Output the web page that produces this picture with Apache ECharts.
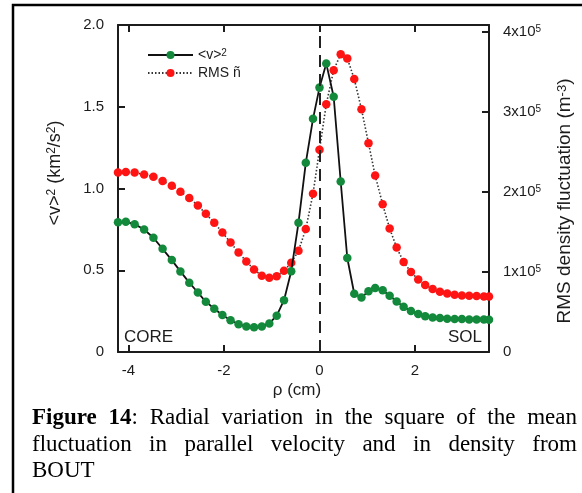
<!DOCTYPE html>
<html>
<head>
<meta charset="utf-8">
<script src="https://cdn.jsdelivr.net/npm/echarts@6/dist/echarts.min.js"></script>
<style>
  html, body { margin: 0; padding: 0; background: #fff; }
  #wrap { position: relative; width: 582px; height: 493px; overflow: hidden; }
  #chart { position: absolute; left: 0; top: 0; width: 582px; height: 493px; }
  .cap { position: absolute; left: 32px; width: 545px; font-family: 'Liberation Serif', 'Times New Roman', serif;
         font-size: 23px; line-height: 26px; color: #000; white-space: nowrap; }
  .just { text-align: justify; text-align-last: justify; white-space: normal; }
</style>
</head>
<body>
<div id="wrap">
  <div id="chart"></div>
  <div class="cap just" style="top:404px"><b>Figure 14</b>: Radial variation in the square of the mean</div>
  <div class="cap just" style="top:431px">fluctuation in parallel velocity and in density from</div>
  <div class="cap" style="top:457px">BOUT</div>
</div>
<script>
// Radial coordinate rho (cm), shared by both profiles
const rho = [-4.22, -4.056, -3.872, -3.673, -3.478, -3.286, -3.093, -2.913, -2.727, -2.547,
  -2.380, -2.204, -2.034, -1.863, -1.695, -1.532, -1.371, -1.208, -1.051, -0.896,
  -0.743, -0.592, -0.440, -0.287, -0.136, 0.0, 0.142, 0.297, 0.444, 0.582,
  0.728, 0.879, 1.026, 1.166, 1.323, 1.469, 1.616, 1.762, 1.915, 2.068,
  2.214, 2.369, 2.522, 2.675, 2.830, 2.982, 3.135, 3.290, 3.443, 3.55];

// <v>^2 in km^2/s^2 (left axis)
const vSquared = [0.793, 0.796, 0.782, 0.749, 0.699, 0.631, 0.562, 0.493, 0.424, 0.364,
  0.307, 0.265, 0.226, 0.194, 0.170, 0.156, 0.151, 0.156, 0.175, 0.222,
  0.317, 0.494, 0.790, 1.157, 1.426, 1.617, 1.764, 1.561, 1.043, 0.575,
  0.356, 0.333, 0.372, 0.391, 0.378, 0.344, 0.309, 0.276, 0.251, 0.232,
  0.218, 0.211, 0.208, 0.204, 0.202, 0.202, 0.199, 0.199, 0.199, 0.197];

// RMS density fluctuation in units of 1e5 m^-3 (right axis)
const rmsDensity = [2.245, 2.25, 2.245, 2.22, 2.191, 2.1375, 2.079, 2.004, 1.925, 1.8325,
  1.729, 1.616, 1.495, 1.37, 1.245, 1.1325, 1.0325, 0.954, 0.929, 0.9475,
  1.016, 1.116, 1.266, 1.5375, 1.979, 2.529, 3.1, 3.525, 3.725, 3.6725,
  3.416, 3.0375, 2.6125, 2.2075, 1.8475, 1.545, 1.306, 1.126, 1.0, 0.9075,
  0.8375, 0.7875, 0.754, 0.7325, 0.716, 0.7075, 0.704, 0.70, 0.695, 0.695];

const rhoTicks = [-4, -2, 0, 2];
const vTicks = [0, 0.5, 1.0, 1.5, 2.0];
const nTicks = [0, 1, 2, 3, 4];

const seriesNames = ['<v>2', 'RMS ñ'];

const FONT = "'Liberation Sans', Arial, sans-serif";
const INK = '#1c1c1c';
const GREEN = '#12893b';
const RED = '#ff1414';

const supRich = (size) => ({ sup: { fontSize: size, fontFamily: FONT, color: INK, verticalAlign: 'top' } });

const chart = echarts.init(document.getElementById('chart'), null, { renderer: 'canvas' });

const axisLineStyle = { show: true, onZero: false, lineStyle: { color: INK, width: 2 } };

chart.setOption({
  animation: false,
  backgroundColor: '#fff',
  grid: { left: 118, top: 25, right: 93, bottom: 141, containLabel: false },
  legend: {
    left: 142, top: 43, orient: 'vertical', itemWidth: 45, itemHeight: 10, itemGap: 4,
    data: seriesNames,
    textStyle: { fontFamily: FONT, fontSize: 14, color: INK, rich: supRich(10) },
    formatter: (n) => n === seriesNames[0] ? '<v>{sup|2}' : n
  },
  xAxis: [{
    type: 'value', min: -4.22, max: 3.55, position: 'bottom',
    axisLine: axisLineStyle,
    axisTick: { show: true, inside: true, length: 7, lineStyle: { color: INK, width: 2 }, customValues: rhoTicks },
    axisLabel: { fontFamily: FONT, fontSize: 15, color: INK, margin: 11, customValues: rhoTicks },
    splitLine: { show: false }
  }, {
    type: 'value', min: -4.22, max: 3.55, position: 'top',
    axisLine: axisLineStyle,
    axisTick: { show: true, inside: true, length: 7, lineStyle: { color: INK, width: 2 }, customValues: rhoTicks },
    axisLabel: { show: false },
    splitLine: { show: false }
  }],
  yAxis: [{
    type: 'value', min: 0, max: 2.0, interval: 0.5, position: 'left',
    axisLine: axisLineStyle,
    axisTick: { show: true, inside: true, length: 7, lineStyle: { color: INK, width: 2 } },
    axisLabel: { fontFamily: FONT, fontSize: 15, color: INK, margin: 14,
      formatter: (v) => v === 0 ? '0' : v.toFixed(1) },
    splitLine: { show: false }
  }, {
    type: 'value', min: 0, max: 4.09, interval: 1, position: 'right',
    axisLine: axisLineStyle,
    axisTick: { show: true, inside: true, length: 7, lineStyle: { color: INK, width: 2 } },
    axisLabel: { fontFamily: FONT, fontSize: 15, color: INK, margin: 14, rich: supRich(10),
      formatter: (v) => v === 0 ? '0' : Math.round(v) + 'x10{sup|5}' },
    splitLine: { show: false }
  }],
  series: [{
    name: seriesNames[1], type: 'line', xAxisIndex: 0, yAxisIndex: 1,
    data: rho.map((r, i) => [r, rmsDensity[i]]),
    symbol: 'circle', symbolSize: 8.5,
    itemStyle: { color: RED },
    lineStyle: { color: '#333', width: 1.6, type: [1.5, 2] },
    z: 2
  }, {
    name: seriesNames[0], type: 'line', xAxisIndex: 0, yAxisIndex: 0,
    data: rho.map((r, i) => [r, vSquared[i]]),
    symbol: 'circle', symbolSize: 8.5,
    itemStyle: { color: GREEN },
    lineStyle: { color: '#111', width: 1.8 },
    z: 3,
    markLine: {
      silent: true, symbol: ['none', 'none'],
      label: { show: false },
      lineStyle: { color: '#222', width: 2, type: [12, 7] },
      data: [{ xAxis: 0 }]
    }
  }],
  graphic: [
    { type: 'rect', shape: { x: 13, y: 5, width: 700, height: 700 }, style: { fill: 'none', stroke: '#000', lineWidth: 2.5 }, silent: true },
    { type: 'text', x: 55, y: 173, rotation: Math.PI / 2,
      style: { text: '<v>{sup|2} (km{sup|2}/s{sup|2})', font: '18px ' + FONT, fill: INK, align: 'center', verticalAlign: 'middle', rich: supRich(12) } },
    { type: 'text', x: 565, y: 201, rotation: Math.PI / 2,
      style: { text: 'RMS density fluctuation (m{sup|-3})', font: '19px ' + FONT, fill: INK, align: 'center', verticalAlign: 'middle', rich: supRich(13) } },
    { type: 'text', x: 297, y: 390,
      style: { text: 'ρ (cm)', font: '17px ' + FONT, fill: INK, align: 'center', verticalAlign: 'middle' } },
    { type: 'text', x: 124, y: 337,
      style: { text: 'CORE', font: '17px ' + FONT, fill: INK, align: 'left', verticalAlign: 'middle' } },
    { type: 'text', x: 482, y: 337,
      style: { text: 'SOL', font: '17px ' + FONT, fill: INK, align: 'right', verticalAlign: 'middle' } }
  ]
});
</script>
</body>
</html>
